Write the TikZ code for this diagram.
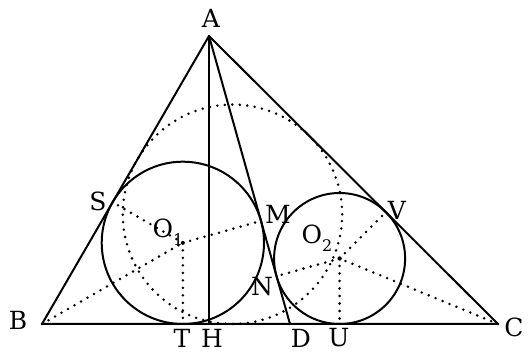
\documentclass[tikz,border=0pt]{standalone}
\usepackage{fontspec}
\setmainfont{DejaVu Serif}
\newcommand{\mysubs}[1]{\raisebox{-0.3em}{\fontsize{16}{16}\selectfont #1}}
\begin{document}
\begin{tikzpicture}[x=1pt,y=-1pt,
  solidline/.style={line width=2pt, line join=round, line cap=round},
  dotline/.style={line width=2.8pt, line cap=round, dash pattern=on 0pt off 7.5pt},
  lab/.style={font=\fontsize{25}{28}\selectfont, inner sep=0pt}]
\useasboundingbox (0,0) rectangle (528,352);
% points
\coordinate (A) at (209,36);
\coordinate (B) at (42,324);
\coordinate (C) at (498,324);
\coordinate (H) at (209,324);
\coordinate (D) at (290,324);
\coordinate (O1) at (182.86,242.85);
\coordinate (O2) at (339.6,258.5);
\coordinate (I) at (232.45,214.3);
\coordinate (S) at (112.6,202.2);
\coordinate (T) at (182.86,324);
\coordinate (M) at (261.0,220.9);
\coordinate (N) at (276.5,276.2);
\coordinate (U) at (339.6,324);
\coordinate (V) at (385.8,212.2);
% dotted construction
\draw[dotline] (I) circle[radius=109.7pt];
\draw[dotline] (B) -- (O1);
\draw[dotline] (O1) -- (S);
\draw[dotline] (O1) -- (T);
\draw[dotline] (O1) -- (M);
\draw[dotline] (C) -- (O2);
\draw[dotline] (O2) -- (V);
\draw[dotline] (O2) -- (U);
\draw[dotline] (O2) -- (N);
% solid figure
\draw[solidline] (A) -- (B) -- (C) -- cycle;
\draw[solidline] (A) -- (H);
\draw[solidline] (A) -- (D);
\draw[solidline] (O1) circle[radius=81.15pt];
\draw[solidline] (O2) circle[radius=65.5pt];
\fill (O1) circle[radius=2pt];
\fill (O2) circle[radius=2.2pt];
% labels
\node[lab] (lA) at (211,18) {A};
\node[lab] (lB) at (18,320) {B};
\node[lab] (lC) at (514,327) {C};
\node[lab] (lS) at (98,201) {S};
\node[lab] (lO1) at (168,232) {O\mysubs{1}};
\node[lab] (lM) at (278,214) {M};
\node[lab] (lN) at (262,287) {N};
\node[lab] (lO2) at (317,238) {O\mysubs{2}};
\node[lab] (lV) at (397,210) {V};
\node[lab] (lT) at (182,338) {T};
\node[lab] (lH) at (212,338) {H};
\node[lab] (lD) at (301,338) {D};
\node[lab] (lU) at (339,338) {U};
\end{tikzpicture}
\end{document}
